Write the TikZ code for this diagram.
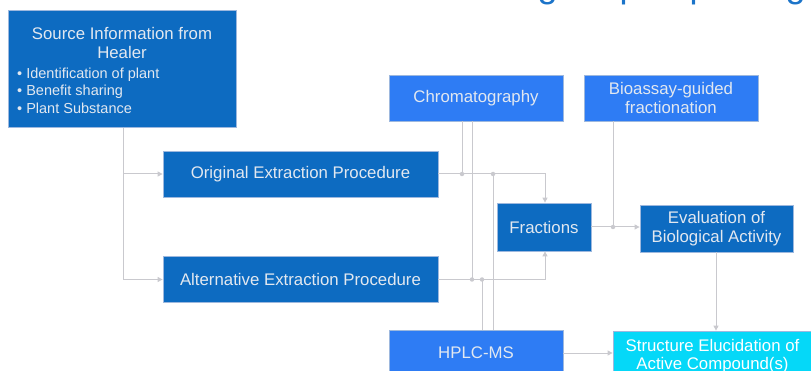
\documentclass[tikz,border=0pt]{standalone}
\usepackage{fontspec}
\setmainfont{Liberation Sans}
\usetikzlibrary{arrows.meta}
\definecolor{deepblue}{HTML}{0D6BC1}
\definecolor{brightblue}{HTML}{2E7CF4}
\definecolor{aqua}{HTML}{05D8F8}
\definecolor{edgeblue}{HTML}{9DB8DE}
\definecolor{wire}{HTML}{C9C9CE}
\definecolor{labelwhite}{HTML}{E2E8F0}
\definecolor{titleblue}{HTML}{1C74C9}
\tikzset{
  box/.style={draw=edgeblue, line width=0.8pt, inner sep=0pt, align=center,
    text=labelwhite, font=\fontsize{16.8}{19.5}\selectfont},
  darkbox/.style={box, fill=deepblue},
  lightbox/.style={box, fill=brightblue},
  cyanbox/.style={box, fill=aqua, text=white},
  bullettext/.style={inner sep=0pt, anchor=west, text=labelwhite,
    font=\fontsize{14.5}{16}\selectfont},
  wireline/.style={draw=wire, line width=1pt},
  flow/.style={wireline, -{Triangle[length=5pt,width=5pt]}},
  joint/.style={circle, fill=wire, inner sep=0pt, minimum size=4.5pt},
}
\begin{document}
\begin{tikzpicture}[x=1pt, y=-1pt]
\useasboundingbox (0,0) rectangle (811,371);
\clip (0,0) rectangle (811,371);

% heading, mostly above the visible area
\node[anchor=base east, inner sep=0pt, text=titleblue,
  font=\fontsize{36}{40}\selectfont] (heading) at (806,-2.5) {Drug Bioprospecting};

% boxes
\node[darkbox, minimum width=228pt, minimum height=117pt, anchor=north west] (src) at (8,10) {};
\node[inner sep=0pt, align=center, text=labelwhite, font=\fontsize{16.8}{19}\selectfont]
  (srctitle) at (122,43) {Source Information from\\Healer};
\node[bullettext] (b1) at (17,74.5) {\textbullet\ Identification of plant};
\node[bullettext] (b2) at (17,91.5) {\textbullet\ Benefit sharing};
\node[bullettext] (b3) at (17,108.5) {\textbullet\ Plant Substance};

\node[darkbox, minimum width=275pt, minimum height=46pt] (orig) at (300.5,174) {Original Extraction Procedure};
\node[darkbox, minimum width=275pt, minimum height=46pt] (alt) at (300.5,279.5) {Alternative Extraction Procedure};
\node[lightbox, minimum width=174pt, minimum height=46pt] (chrom) at (476,98) {Chromatography};
\node[lightbox, minimum width=174pt, minimum height=46pt, font=\fontsize{16.8}{18.5}\selectfont] (bio) at (671,98) {Bioassay-guided\\fractionation};
\node[darkbox, minimum width=94pt, minimum height=48pt] (frac) at (544,227) {Fractions};
\node[darkbox, minimum width=153pt, minimum height=47pt] (eval) at (716.5,228.5) {Evaluation of\\Biological Activity};
\node[lightbox, minimum width=174pt, minimum height=46pt] (hplc) at (476,353) {HPLC-MS};
\node[cyanbox, minimum width=199pt, minimum height=50pt, font=\fontsize{16.8}{18.5}\selectfont] (struct) at (712.5,356) {Structure Elucidation of\\[-1pt]Active Compound(s)};

% junction points
\coordinate (srcfoot) at (src.south -| 123,0);
\coordinate (splitA) at (123,174);
\coordinate (splitB) at (123,279.5);
\coordinate (jA) at (462,174);
\coordinate (jB) at (493,174);
\coordinate (jC) at (472,279.5);
\coordinate (jD) at (482,279.5);
\coordinate (jE) at (613,227);
\coordinate (cornerA) at (545,174);
\coordinate (cornerB) at (545,279.5);

% source to the two extraction procedures
\draw[wireline] (srcfoot) -- (splitB);
\draw[flow] (splitA) -- (orig.west);
\draw[flow] (splitB) -- (alt.west);

% extraction procedures to fractions
\draw[flow] (orig.east) -- (cornerA) -- (cornerA |- frac.north);
\draw[flow] (alt.east) -- (cornerB) -- (cornerB |- frac.south);

% chromatography and HPLC-MS feed the extraction lines
\draw[wireline] (chrom.south -| jA) -- (jA);
\draw[wireline] (chrom.south -| jC) -- (jC);
\draw[wireline] (hplc.north -| jB) -- (jB);
\draw[wireline] (hplc.north -| jD) -- (jD);
\node[joint] (dA) at (jA) {};
\node[joint] (dB) at (jB) {};
\node[joint] (dC) at (jC) {};
\node[joint] (dD) at (jD) {};

% fractions to evaluation, with bioassay feed
\draw[flow] (frac.east |- jE) -- (eval.west |- jE);
\draw[wireline] (bio.south -| jE) -- (jE);
\node[joint] (dE) at (jE) {};

% evaluation and HPLC-MS to structure elucidation
\draw[flow] (eval.south -| 716,0) -- (struct.north -| 716,0);
\draw[flow] (hplc.east) -- (struct.west |- hplc.east);
\end{tikzpicture}
\end{document}
